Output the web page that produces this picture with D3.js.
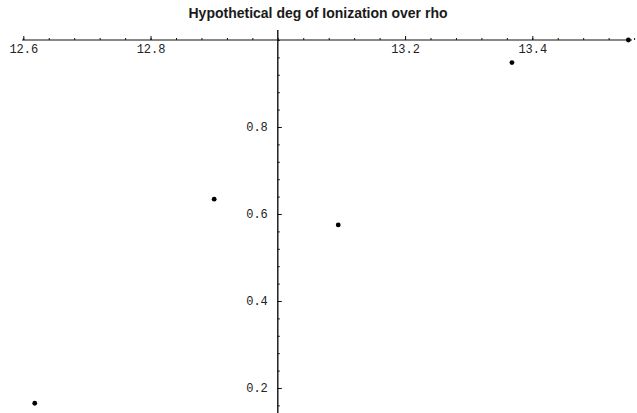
<!DOCTYPE html>
<html>
<head>
<meta charset="utf-8">
<script src="https://cdn.jsdelivr.net/npm/d3@7"></script>
<style>
  html, body { margin: 0; padding: 0; background: #fff; }
  svg { display: block; }
</style>
</head>
<body>
<div id="chart"></div>
<script>
// Data
const rhoValues = [12.618, 12.9, 13.095, 13.368, 13.551];
const ionValues = [0.165, 0.634, 0.575, 0.948, 1.0];
const xTickLabels = [12.6, 12.8, 13.2, 13.4];
const yTickLabels = [0.2, 0.4, 0.6, 0.8];
const chartTitle = "Hypothetical deg of Ionization over rho";

const width = 637;
const height = 413;

const svg = d3.select("#chart")
  .append("svg")
  .attr("width", width)
  .attr("height", height);

const x = d3.scaleLinear().domain([12.6, 13.4]).range([23.3, 532.3]);
const y = d3.scaleLinear().domain([0.2, 1.0]).range([388, 40]);

const originX = x(13.0);
const originY = y(1.0);

// minor ticks every 0.04
const xMinor = d3.range(0, 25).map(i => +(12.6 + i * 0.04).toFixed(2));
const yMinor = d3.range(0, 22).map(i => +(0.16 + i * 0.04).toFixed(2));

svg.append("text")
  .attr("x", 318)
  .attr("y", 18)
  .attr("text-anchor", "middle")
  .attr("font-family", "Liberation Sans, Arial, sans-serif")
  .attr("font-size", 14)
  .attr("font-weight", "bold")
  .attr("fill", "#1a1a1a")
  .text(chartTitle);

// x axis (ticks point up, labels below)
const xAxisG = svg.append("g").attr("transform", `translate(0,${originY})`);
xAxisG.append("line")
  .attr("x1", 22).attr("x2", 632)
  .attr("stroke", "#111").attr("stroke-width", 1.2);
xAxisG.append("g")
  .call(d3.axisTop(x).tickValues(xMinor).tickSize(2).tickFormat(""))
  .call(g => g.select(".domain").remove());
const xMajor = xAxisG.append("g")
  .call(d3.axisTop(x).tickValues(xTickLabels).tickSize(4).tickFormat(d3.format(".1f")))
  .call(g => g.select(".domain").remove());
xMajor.selectAll("text")
  .attr("y", 13)
  .attr("dy", 0)
  .attr("font-family", "Liberation Mono, Courier New, monospace")
  .attr("font-size", 12)
  .attr("fill", "#222");

// y axis (ticks point right, labels left)
const yAxisG = svg.append("g").attr("transform", `translate(${originX},0)`);
yAxisG.append("line")
  .attr("y1", 30).attr("y2", height)
  .attr("stroke", "#111").attr("stroke-width", 1.4);
yAxisG.append("g")
  .call(d3.axisRight(y).tickValues(yMinor).tickSize(2).tickFormat(""))
  .call(g => g.select(".domain").remove());
const yMajor = yAxisG.append("g")
  .call(d3.axisRight(y).tickValues(yTickLabels).tickSize(4).tickFormat(d3.format(".1f")))
  .call(g => g.select(".domain").remove());
yMajor.selectAll("text")
  .attr("x", -10)
  .attr("text-anchor", "end")
  .attr("font-family", "Liberation Mono, Courier New, monospace")
  .attr("font-size", 12)
  .attr("fill", "#222");

svg.selectAll(".tick line").attr("stroke", "#111");

// points
svg.append("g")
  .selectAll("circle")
  .data(rhoValues.map((r, i) => ({ rho: r, ion: ionValues[i] })))
  .enter()
  .append("circle")
  .attr("cx", d => x(d.rho))
  .attr("cy", d => y(d.ion))
  .attr("r", 2.4)
  .attr("fill", "#000");
</script>
</body>
</html>
